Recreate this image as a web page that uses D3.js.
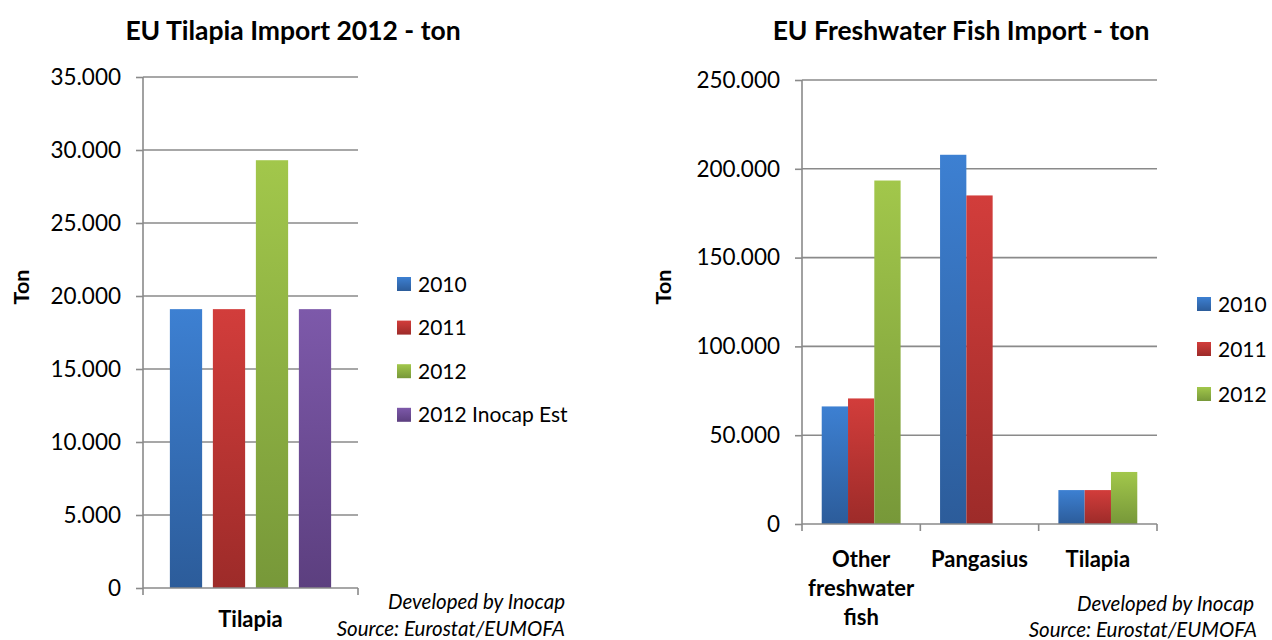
<!DOCTYPE html>
<html>
<head>
<meta charset="utf-8">
<script src="https://cdn.jsdelivr.net/npm/d3@7"></script>
<style>
  html, body { margin: 0; padding: 0; background: #fff; }
  svg { display: block; font-family: Lato, "Open Sans", sans-serif; }
</style>
</head>
<body>
<svg id="chart" width="1272" height="640"></svg>
<script>
// ---------- data ----------
const leftTitle = "EU Tilapia Import 2012 - ton";
const leftCategories = ["Tilapia"];
const leftSeries = ["2010", "2011", "2012", "2012 Inocap Est"];
const leftValues = [19100, 19100, 29300, 19100];
const leftTicks = [0, 5000, 10000, 15000, 20000, 25000, 30000, 35000];

const rightTitle = "EU Freshwater Fish Import - ton";
const rightCategories = ["Other freshwater fish", "Pangasius", "Tilapia"];
const rightSeries = ["2010", "2011", "2012"];
const right2010 = [66200, 207900, 19100];
const right2011 = [70700, 185000, 19100];
const right2012 = [193400, null, 29300];
const rightTicks = [0, 50000, 100000, 150000, 200000, 250000];

const yAxisLabel = "Ton";
const footLines = ["Developed by Inocap", "Source: Eurostat/EUMOFA"];

// ---------- style ----------
const seriesColors = {
  "2010": ["#3d80d2", "#2c5c9a"],
  "2011": ["#d23d3b", "#9d2b29"],
  "2012": ["#a2c74b", "#779839"],
  "2012 Inocap Est": ["#7d59aa", "#5c3f7f"]
};
const gridColor = "#8a8a8a";

const svg = d3.select("#chart");
const defs = svg.append("defs");
Object.entries(seriesColors).forEach(([k, c], i) => {
  const g = defs.append("linearGradient").attr("id", "grad" + i)
    .attr("x1", 0).attr("y1", 0).attr("x2", 0).attr("y2", 1);
  g.append("stop").attr("offset", "0%").attr("stop-color", c[0]);
  g.append("stop").attr("offset", "100%").attr("stop-color", c[1]);
  seriesColors[k].grad = "url(#grad" + i + ")";
});

const loc = d3.formatLocale({ decimal: ",", thousands: ".", grouping: [3], currency: ["", ""] });
const fmt = loc.format(",");

function wrap(textSel, width, lh) {
  textSel.each(function () {
    const t = d3.select(this);
    const words = t.text().split(/\s+/);
    const x = t.attr("x"), y = t.attr("y");
    t.text(null);
    let line = [], lineNo = 0;
    let ts = t.append("tspan").attr("x", x).attr("y", y);
    words.forEach(w => {
      line.push(w);
      ts.text(line.join(" "));
      if (ts.node().getComputedTextLength() > width && line.length > 1) {
        line.pop();
        ts.text(line.join(" "));
        line = [w];
        lineNo++;
        ts = t.append("tspan").attr("x", x).attr("y", +y + lineNo * lh).text(w);
      }
    });
  });
}

function drawChart(o) {
  const g = svg.append("g");
  const y = d3.scaleLinear().domain([0, o.max]).range([o.y0, o.y1]);
  const x0 = d3.scaleBand().domain(o.categories).range([o.x0, o.x1]).padding(0);
  const x1 = d3.scaleBand().domain(o.series).range([0, x0.bandwidth()])
    .paddingInner(o.pin).paddingOuter(o.pout);

  // gridlines
  g.selectAll(".grid").data(o.ticks.filter(d => d > 0)).join("line")
    .attr("x1", o.x0).attr("x2", o.x1)
    .attr("y1", d => y(d)).attr("y2", d => y(d))
    .attr("stroke", gridColor).attr("stroke-width", 1.6);

  // bars
  const bars = [];
  o.categories.forEach((c, ci) => {
    o.series.forEach((s, si) => {
      const v = o.values[si][ci];
      if (v != null) bars.push({ c, s, v });
    });
  });
  g.selectAll(".bar").data(bars).join("rect")
    .attr("x", d => x0(d.c) + x1(d.s))
    .attr("width", x1.bandwidth())
    .attr("y", d => y(d.v))
    .attr("height", d => y(0) - y(d.v))
    .attr("fill", d => seriesColors[d.s].grad);

  // y axis
  const ya = g.append("g").attr("transform", `translate(${o.x0},0)`)
    .call(d3.axisLeft(y).tickValues(o.ticks).tickFormat(fmt).tickSize(7).tickPadding(15));
  ya.select(".domain").attr("stroke", gridColor).attr("stroke-width", 1.6)
    .attr("d", `M0,${o.y0}V${o.y1}`);
  ya.selectAll(".tick line").attr("stroke", gridColor).attr("stroke-width", 1.6);
  ya.selectAll(".tick text").attr("fill", "#000").style("font-size", "22.5px")
    .style("font-family", "Lato, sans-serif");

  // x axis
  const xa = g.append("g").attr("transform", `translate(0,${o.y0})`);
  xa.append("line").attr("x1", o.x0).attr("x2", o.x1).attr("y1", 0).attr("y2", 0)
    .attr("stroke", gridColor).attr("stroke-width", 1.6);
  const bounds = o.categories.map(c => x0(c)).concat([o.x1]);
  xa.selectAll(".xt").data(bounds).join("line")
    .attr("x1", d => d).attr("x2", d => d).attr("y1", 0).attr("y2", 7)
    .attr("stroke", gridColor).attr("stroke-width", 1.6);
  xa.selectAll(".xl").data(o.categories).join("text")
    .attr("x", d => x0(d) + x0.bandwidth() / 2)
    .attr("y", o.catDy)
    .attr("text-anchor", "middle")
    .style("font-size", "22px").style("font-weight", "bold")
    .text(d => d)
    .call(wrap, x0.bandwidth() - 2, 29);

  // title
  g.append("text").attr("x", o.titleX).attr("y", 40).attr("text-anchor", "middle")
    .style("font-size", "26.5px").style("font-weight", "bold").text(o.title);

  // y label
  g.append("text").attr("transform", `translate(${o.ylabX},${o.ylabY}) rotate(-90)`)
    .attr("text-anchor", "middle").attr("dy", "0.35em")
    .style("font-size", "21.5px").style("font-weight", "bold").text(yAxisLabel);

  // legend
  const lg = g.append("g");
  o.series.forEach((s, i) => {
    const cy = o.legY + i * o.legStep;
    lg.append("rect").attr("x", o.legX).attr("y", cy - 7).attr("width", 14).attr("height", 14)
      .attr("fill", seriesColors[s].grad);
    lg.append("text").attr("x", o.legX + 21).attr("y", cy).attr("dy", "0.36em")
      .style("font-size", "21px").text(s);
  });

  // footnote
  footLines.forEach((t, i) => {
    g.append("text").attr("x", o.footX[i]).attr("y", o.footY[i])
      .attr("text-anchor", "end").style("font-size", "20.5px").style("font-style", "italic")
      .text(t);
  });
}

drawChart({
  title: leftTitle, titleX: 293,
  categories: leftCategories, series: leftSeries,
  values: leftValues.map(v => [v]),
  ticks: leftTicks, max: 35000,
  x0: 143, x1: 358, y0: 588, y1: 77,
  pin: 0.25, pout: 0.625, catDy: 39,
  ylabX: 21, ylabY: 287,
  legX: 397, legY: 284, legStep: 43.6,
  footX: [565, 565], footY: [609, 636]
});

drawChart({
  title: rightTitle, titleX: 961,
  categories: rightCategories, series: rightSeries,
  values: [right2010, right2011, right2012],
  ticks: rightTicks, max: 250000,
  x0: 802, x1: 1157, y0: 524, y1: 80,
  pin: 0, pout: 0.75, catDy: 43,
  ylabX: 663, ylabY: 287,
  legX: 1197, legY: 304, legStep: 45,
  footX: [1254, 1257], footY: [611, 637]
});
</script>
</body>
</html>
